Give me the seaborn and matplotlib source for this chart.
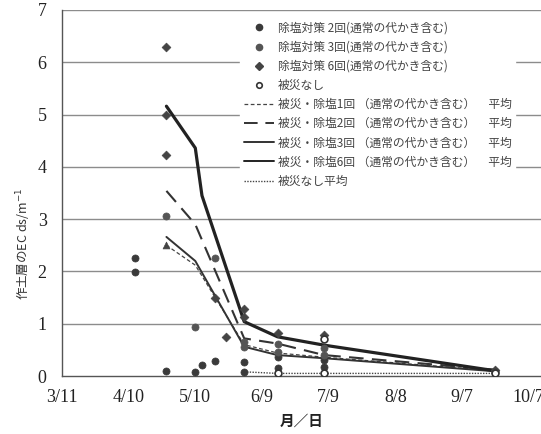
import matplotlib
matplotlib.use("Agg")
import matplotlib.pyplot as plt
from matplotlib.lines import Line2D
import seaborn as sns

# ─── Data (days since 3/11) ──────────────────────────────────────────────────

tick_days = [0, 30, 60, 90, 120, 150, 180, 210]
tick_labels = ["3/11", "4/10", "5/10", "6/9", "7/9", "8/8", "9/7", "10/7"]

# scatter: 除塩対策2回
pts2_day = [33, 33, 47, 60, 63, 69, 82, 82, 97, 97, 118, 118, 195]
pts2_ec = [2.25, 1.99, 0.10, 0.08, 0.21, 0.29, 0.27, 0.08, 0.37, 0.15, 0.31, 0.18, 0.08]

# scatter: 除塩対策3回
pts3_day = [47, 60, 69, 82, 82, 97, 97, 118, 118, 195]
pts3_ec = [3.06, 0.94, 2.25, 0.66, 0.56, 0.62, 0.46, 0.53, 0.40, 0.10]

# scatter: 除塩対策6回
pts6_day = [47, 47, 47, 69, 74, 82, 82, 97, 118, 195]
pts6_ec = [6.30, 5.00, 4.22, 1.49, 0.75, 1.29, 1.12, 0.82, 0.79, 0.12]

# scatter: 被災なし
pts0_day = [97, 118, 118, 195]
pts0_ec = [0.05, 0.70, 0.05, 0.06]

# triangle marks (no legend entry)
tri_day = [47, 195]
tri_ec = [2.50, 0.11]

# mean lines
avg1_day = [47, 60, 82, 97, 118, 195]
avg1_ec = [2.50, 2.12, 0.60, 0.44, 0.36, 0.10]

avg2_day = [47, 60, 82, 97, 118, 195]
avg2_ec = [3.54, 2.90, 0.72, 0.62, 0.40, 0.12]

avg3_day = [47, 60, 82, 97, 118, 195]
avg3_ec = [2.66, 2.20, 0.56, 0.40, 0.34, 0.09]

avg6_day = [47, 60, 63, 82, 97, 118, 195]
avg6_ec = [5.16, 4.36, 3.45, 1.04, 0.75, 0.59, 0.10]

avg0_day = [82, 97, 118, 195]
avg0_ec = [0.08, 0.05, 0.05, 0.05]

# ─── Style ───────────────────────────────────────────────────────────────────

sns.set_style("white")
plt.rcParams["font.family"] = ["Noto Sans CJK JP", "DejaVu Sans"]

ink = "#333333"
grid_c = "#8c8c8c"

fig = plt.figure(figsize=(5.41, 4.34), dpi=100)
ax = fig.add_axes([0.1146, 0.1336, 0.8854, 0.8434])

for yv in range(1, 8):
    ax.axhline(yv, color=grid_c, lw=1.0, zorder=0)

# ─── Scatter ─────────────────────────────────────────────────────────────────

sns.scatterplot(x=pts2_day, y=pts2_ec, marker="o", s=26, color="#3a3a3a",
                edgecolor="#3a3a3a", linewidth=0.5, ax=ax, zorder=3)
sns.scatterplot(x=pts3_day, y=pts3_ec, marker="o", s=26, color="#555555",
                edgecolor="#555555", linewidth=0.5, ax=ax, zorder=3)
sns.scatterplot(x=pts6_day, y=pts6_ec, marker="D", s=20, color="#444444",
                edgecolor="#444444", linewidth=0.5, ax=ax, zorder=3)
sns.scatterplot(x=pts0_day, y=pts0_ec, marker="o", s=24, color="white",
                edgecolor="#333333", linewidth=1.2, ax=ax, zorder=4)
sns.scatterplot(x=tri_day, y=tri_ec, marker="^", s=24, color="#444444",
                edgecolor="#444444", linewidth=0.5, ax=ax, zorder=3)

# ─── Mean lines ──────────────────────────────────────────────────────────────

line_styles = [
    (avg1_day, avg1_ec, dict(lw=0.9, dashes=(3, 2), color="#444444")),
    (avg2_day, avg2_ec, dict(lw=1.5, dashes=(7, 4), color=ink)),
    (avg3_day, avg3_ec, dict(lw=1.4, color=ink)),
    (avg6_day, avg6_ec, dict(lw=2.3, color="#222222")),
    (avg0_day, avg0_ec, dict(lw=1.0, dashes=(1, 1), color="#444444")),
]
for xs, ys, kw in line_styles:
    dashes = kw.pop("dashes", None)
    sns.lineplot(x=xs, y=ys, ax=ax, sort=False, zorder=2, **kw)
    if dashes is not None:
        ax.lines[-1].set_dashes(dashes)
    kw["dashes"] = dashes

# ─── Axes ────────────────────────────────────────────────────────────────────

ax.set_xlim(0, 215.6)
ax.set_ylim(0, 7)
ax.set_xticks(tick_days)
ax.set_xticklabels(tick_labels)
ax.set_yticks(range(0, 8))
ax.tick_params(axis="both", direction="out", length=3, width=0.8,
               color="#555555", labelsize=13, labelcolor="#222222")
for lab in ax.get_xticklabels() + ax.get_yticklabels():
    lab.set_fontfamily("Liberation Serif")
ax.tick_params(axis="x", pad=6)
ax.tick_params(axis="y", pad=8)

for side in ["top", "right"]:
    ax.spines[side].set_visible(False)
for side in ["left", "bottom"]:
    ax.spines[side].set_color("#555555")
    ax.spines[side].set_linewidth(1.0)

ax.set_xlabel("月／日", fontsize=10.5, fontweight="bold", color="#222222",
              labelpad=5)
ax.set_ylabel("作土層のEC ds/m$^{-1}$", fontsize=9, color="#333333")
ax.yaxis.set_label_coords(-0.06, 0.36)

# ─── Legend ──────────────────────────────────────────────────────────────────

handles = [
    Line2D([], [], ls="none", marker="o", ms=4.5, color="#3a3a3a"),
    Line2D([], [], ls="none", marker="o", ms=4.5, color="#555555"),
    Line2D([], [], ls="none", marker="D", ms=3.8, color="#444444"),
    Line2D([], [], ls="none", marker="o", ms=4.0, mfc="white",
           mec="#333333", mew=1.2),
]
for xs, ys, kw in line_styles:
    h = Line2D([], [], lw=min(kw["lw"], 1.4), color=kw["color"])
    if kw["dashes"] is not None:
        h.set_dashes(kw["dashes"])
    handles.append(h)

labels = [
    "除塩対策 2回(通常の代かき含む)",
    "除塩対策 3回(通常の代かき含む)",
    "除塩対策 6回(通常の代かき含む)",
    "被災なし",
    "被災・除塩1回 （通常の代かき含む）     平均",
    "被災・除塩2回 （通常の代かき含む）     平均",
    "被災・除塩3回 （通常の代かき含む）     平均",
    "被災・除塩6回 （通常の代かき含む）     平均",
    "被災なし平均",
]
leg = ax.legend(handles, labels, loc="upper left",
                bbox_to_anchor=(0.372, 0.978), fontsize=8.5,
                frameon=True, framealpha=1.0, facecolor="white",
                edgecolor="white", handlelength=2.6, handletextpad=0.3,
                labelspacing=0.52, borderpad=0.3, borderaxespad=0.0)
for t in leg.get_texts():
    t.set_color("#444444")
leg.set_zorder(5)

fig.savefig("out.png", dpi=100)
